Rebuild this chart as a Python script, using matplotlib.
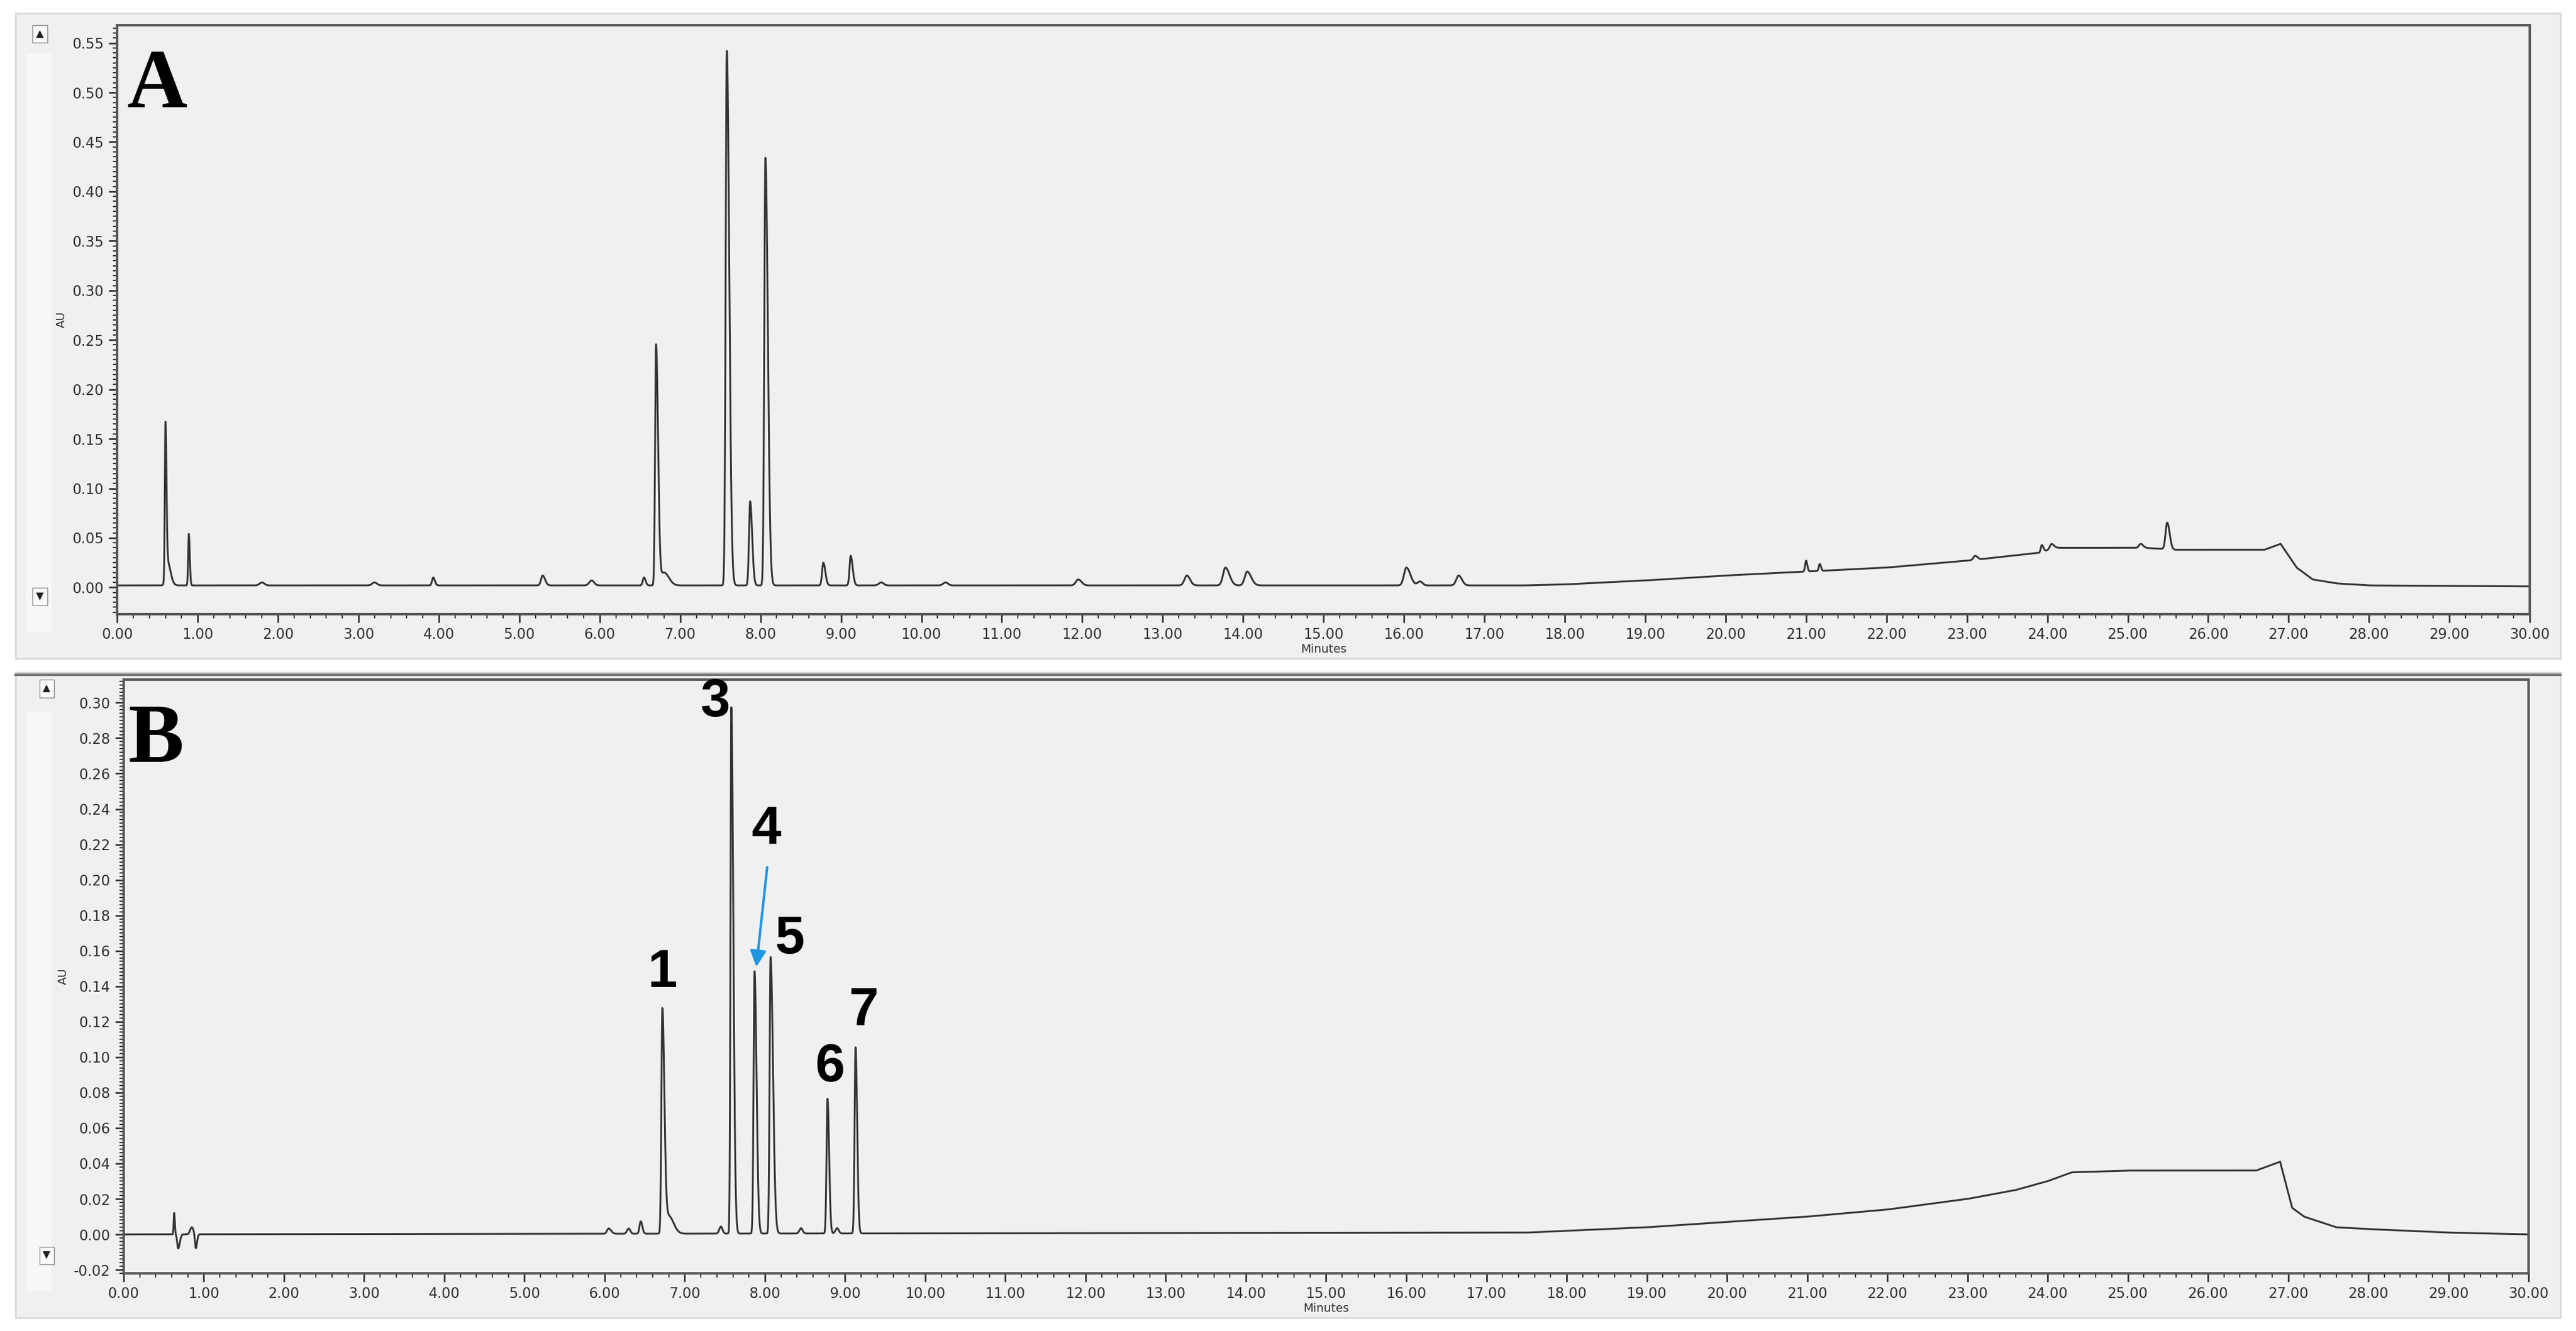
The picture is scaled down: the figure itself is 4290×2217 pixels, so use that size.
import numpy as np
import matplotlib

matplotlib.use("Agg")
import matplotlib.pyplot as plt
from matplotlib.patches import Rectangle
from matplotlib.ticker import MultipleLocator, FormatStrFormatter

# peak tables: retention time (min), height (AU), left sigma, right sigma
A_TIMES = [0.60, 0.62, 0.89, 1.80, 3.20, 3.93, 5.29, 5.90, 6.55, 6.70, 6.80, 7.58, 7.87, 8.06, 8.78, 9.12,
           9.50, 10.30, 11.95, 13.30, 13.78, 14.05, 16.03, 16.20, 16.68, 21.00, 21.17, 23.10, 23.93,
           24.05, 25.16, 25.49]
A_HEIGHTS = [0.150, 0.025, 0.052, 0.003, 0.003, 0.008, 0.010, 0.005, 0.008, 0.243, 0.013, 0.540, 0.085,
             0.432, 0.023, 0.030, 0.003, 0.003, 0.006, 0.010, 0.018, 0.014, 0.018, 0.004, 0.010, 0.011,
             0.007, 0.004, 0.007, 0.005, 0.004, 0.027]
A_SIG_L = [0.008, 0.02, 0.008, 0.03, 0.03, 0.015, 0.02, 0.03, 0.015, 0.012, 0.04, 0.014, 0.014, 0.014,
           0.015, 0.014, 0.03, 0.03, 0.03, 0.03, 0.03, 0.03, 0.03, 0.03, 0.03, 0.012, 0.012, 0.02, 0.012,
           0.02, 0.02, 0.02]
A_SIG_R = [0.012, 0.04, 0.012, 0.03, 0.03, 0.02, 0.03, 0.03, 0.02, 0.025, 0.06, 0.03, 0.025, 0.03,
           0.025, 0.025, 0.03, 0.03, 0.04, 0.04, 0.05, 0.05, 0.05, 0.03, 0.04, 0.015, 0.015, 0.03, 0.02,
           0.03, 0.03, 0.03]
A_DRIFT_T = [0.0, 17.5, 18.0, 19.0, 20.0, 21.0, 22.0, 23.0, 23.9, 24.1, 25.2, 25.6, 26.7, 26.9, 27.1,
             27.3, 27.6, 28.0, 30.0]
A_DRIFT_Y = [0.002, 0.002, 0.003, 0.007, 0.012, 0.016, 0.020, 0.027, 0.035, 0.040, 0.040, 0.038, 0.038,
             0.044, 0.020, 0.008, 0.004, 0.002, 0.001]

B_TIMES = [0.63, 0.68, 0.85, 0.90, 6.05, 6.30, 6.45, 6.72, 6.80, 7.45, 7.58, 7.87, 8.07, 8.45, 8.78,
           8.90, 9.13]
B_HEIGHTS = [0.012, -0.008, 0.004, -0.008, 0.003, 0.003, 0.007, 0.126, 0.010, 0.004, 0.297, 0.148,
             0.156, 0.003, 0.076, 0.003, 0.105]
B_SIG_L = [0.006, 0.012, 0.02, 0.01, 0.02, 0.02, 0.015, 0.012, 0.04, 0.02, 0.01, 0.012, 0.012, 0.02,
           0.012, 0.02, 0.012]
B_SIG_R = [0.008, 0.02, 0.02, 0.015, 0.03, 0.02, 0.02, 0.025, 0.06, 0.02, 0.025, 0.025, 0.03, 0.02,
           0.02, 0.02, 0.02]
B_DRIFT_T = [0.0, 17.5, 19.0, 20.0, 21.0, 22.0, 23.0, 23.6, 24.0, 24.3, 25.0, 26.6, 26.9, 27.05, 27.2,
             27.6, 28.0, 29.0, 30.0]
B_DRIFT_Y = [0.000, 0.001, 0.004, 0.007, 0.010, 0.014, 0.020, 0.025, 0.030, 0.035, 0.036, 0.036, 0.041,
             0.015, 0.010, 0.004, 0.003, 0.001, 0.000]

B_LABELS = ["1", "3", "4", "5", "6", "7"]
B_LABEL_X = [6.72, 7.38, 8.02, 8.31, 8.81, 9.23]
B_LABEL_Y = [0.133, 0.286, 0.214, 0.152, 0.080, 0.112]


def trace(times, heights, sig_l, sig_r, drift_t, drift_y):
    t = np.linspace(0, 30, 30001)
    y = np.interp(t, drift_t, drift_y)
    for t0, h, sl, sr in zip(times, heights, sig_l, sig_r):
        s = np.where(t < t0, sl, sr)
        y += h * np.exp(-0.5 * ((t - t0) / s) ** 2)
    return t, y


def style_axes(ax, ylim, ymajor, yminor):
    ax.set_facecolor("#f0f0f0")
    ax.set_xlim(0, 30)
    ax.set_ylim(*ylim)
    ax.xaxis.set_major_locator(MultipleLocator(1))
    ax.xaxis.set_minor_locator(MultipleLocator(0.2))
    ax.yaxis.set_major_locator(MultipleLocator(ymajor))
    ax.yaxis.set_minor_locator(MultipleLocator(yminor))
    ax.xaxis.set_major_formatter(FormatStrFormatter("%.2f"))
    ax.yaxis.set_major_formatter(FormatStrFormatter("%.2f"))
    ax.tick_params(which="major", length=10, width=2, labelsize=17, colors="#333333", pad=6)
    ax.tick_params(which="minor", length=5, width=1.5, colors="#333333")
    for sp in ax.spines.values():
        sp.set_color("#555555")
        sp.set_linewidth(3)
    ax.set_ylabel("AU", fontsize=14, color="#333333", labelpad=6)


fig = plt.figure(figsize=(42.9, 22.17), dpi=100, facecolor="white")

# window backgrounds and scroll strips
for y0, h in ((0.505, 0.485), (0.01, 0.485)):
    fig.patches.append(Rectangle((0.006, y0), 0.988, h, transform=fig.transFigure,
                                 facecolor="#f0f0f0", edgecolor="#d8d8d8", lw=2, zorder=-5))
    fig.patches.append(Rectangle((0.010, y0 + 0.02), 0.010, h - 0.05, transform=fig.transFigure,
                                 facecolor="#f7f7f7", edgecolor="none", zorder=-4))
fig.add_artist(plt.Line2D([0.006, 0.994], [0.493, 0.493], transform=fig.transFigure,
                          color="#777777", lw=3))

axA = fig.add_axes([0.0455, 0.5386, 0.9366, 0.4425])
axB = fig.add_axes([0.048, 0.0433, 0.9336, 0.4461])

tA, yA = trace(A_TIMES, A_HEIGHTS, A_SIG_L, A_SIG_R, A_DRIFT_T, A_DRIFT_Y)
tB, yB = trace(B_TIMES, B_HEIGHTS, B_SIG_L, B_SIG_R, B_DRIFT_T, B_DRIFT_Y)
axA.plot(tA, yA, color="#333333", lw=2.2)
axB.plot(tB, yB, color="#333333", lw=2.2)

style_axes(axA, (-0.027, 0.568), 0.05, 0.005)
style_axes(axB, (-0.022, 0.313), 0.02, 0.002)
axA.set_xlabel("Minutes", fontsize=14, color="#333333", labelpad=2)
axB.set_xlabel("Minutes", fontsize=14, color="#333333", labelpad=2)

axA.text(0.004, 0.96, "A", transform=axA.transAxes, ha="left", va="top", fontsize=100,
         fontweight="bold", family="Liberation Serif")
axB.text(0.002, 0.96, "B", transform=axB.transAxes, ha="left", va="top", fontsize=100,
         fontweight="bold", family="Liberation Serif")

for lab, x, y in zip(B_LABELS, B_LABEL_X, B_LABEL_Y):
    axB.text(x, y, lab, ha="center", va="bottom", fontsize=64, fontweight="bold",
             family="Liberation Sans")
axB.annotate("", xy=(7.89, 0.150), xytext=(8.03, 0.208),
             arrowprops=dict(arrowstyle="-|>,head_length=1.6,head_width=0.8", color="#2196e0", lw=3))

# scroll buttons
for ax in (axA, axB):
    for yf, sym in ((0.985, "▲"), (0.03, "▼"), (0.5, "")):
        ax.text(-0.032, yf, sym, transform=ax.transAxes, ha="center", va="center", fontsize=12,
                color="#222222",
                bbox=dict(boxstyle="square,pad=0.35", facecolor="#fafafa", edgecolor="#888888"))

fig.savefig("out.png", dpi=100, facecolor="white")
